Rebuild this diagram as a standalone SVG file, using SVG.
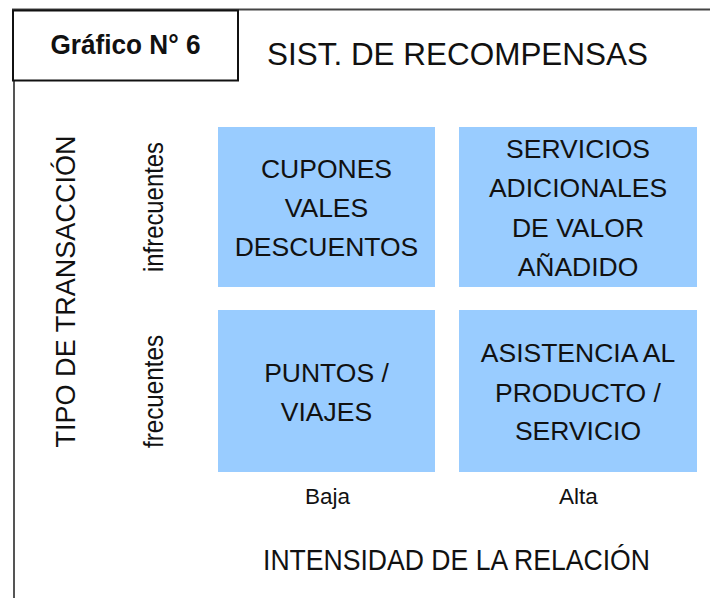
<svg xmlns="http://www.w3.org/2000/svg" width="710" height="598" viewBox="0 0 710 598">
<style>
.t{font-family:"Liberation Sans",Arial,sans-serif;fill:#111;}
.bx{fill:#99CCFF;}
.bt{font-size:26.5px;text-anchor:middle;}
</style>
<rect width="710" height="598" fill="#fff"/>
<g id="frame">
<line x1="12" y1="9.5" x2="710" y2="9.5" stroke="#444" stroke-width="2"/>
<line x1="14" y1="10" x2="14" y2="598" stroke="#555" stroke-width="2"/>
<rect x="13" y="10.5" width="225" height="70" fill="#fff" stroke="#111" stroke-width="2"/>
<text class="t" x="125.5" y="54" font-size="27" font-weight="bold" text-anchor="middle" textLength="150" lengthAdjust="spacingAndGlyphs">Gráfico N° 6</text>
</g>
<g id="title"><text class="t" x="267" y="65" font-size="30.5" textLength="381" lengthAdjust="spacingAndGlyphs">SIST. DE RECOMPENSAS</text></g>
<g id="yaxis">
<text class="t" transform="translate(75,291.5) rotate(-90)" font-size="27" text-anchor="middle" textLength="312" lengthAdjust="spacingAndGlyphs">TIPO DE TRANSACCIÓN</text>
<text class="t" transform="translate(163,207) rotate(-90)" font-size="27" text-anchor="middle" textLength="130" lengthAdjust="spacingAndGlyphs">infrecuentes</text>
<text class="t" transform="translate(163,391.5) rotate(-90)" font-size="27" text-anchor="middle" textLength="113" lengthAdjust="spacingAndGlyphs">frecuentes</text>
</g>
<g id="n1"><rect class="bx" x="218" y="127" width="217" height="160"/>
<text class="t bt" x="326.5" y="178">CUPONES</text>
<text class="t bt" x="326.5" y="217">VALES</text>
<text class="t bt" x="326.5" y="256">DESCUENTOS</text></g>
<g id="n2"><rect class="bx" x="459" y="127" width="238" height="160"/>
<text class="t bt" x="578" y="158">SERVICIOS</text>
<text class="t bt" x="578" y="197">ADICIONALES</text>
<text class="t bt" x="578" y="237">DE VALOR</text>
<text class="t bt" x="578" y="276">AÑADIDO</text></g>
<g id="n3"><rect class="bx" x="218" y="310" width="217" height="162"/>
<text class="t bt" x="326.5" y="382">PUNTOS /</text>
<text class="t bt" x="326.5" y="421">VIAJES</text></g>
<g id="n4"><rect class="bx" x="459" y="310" width="238" height="162"/>
<text class="t bt" x="578" y="362">ASISTENCIA AL</text>
<text class="t bt" x="578" y="402">PRODUCTO /</text>
<text class="t bt" x="578" y="440">SERVICIO</text></g>
<g id="xaxis">
<text class="t" x="327.5" y="504" font-size="22.5" text-anchor="middle">Baja</text>
<text class="t" x="578.5" y="504" font-size="22.5" text-anchor="middle">Alta</text>
<text class="t" x="456.5" y="570" font-size="30" text-anchor="middle" textLength="387" lengthAdjust="spacingAndGlyphs">INTENSIDAD DE LA RELACIÓN</text>
</g>
<g id="connectors"/>
</svg>
